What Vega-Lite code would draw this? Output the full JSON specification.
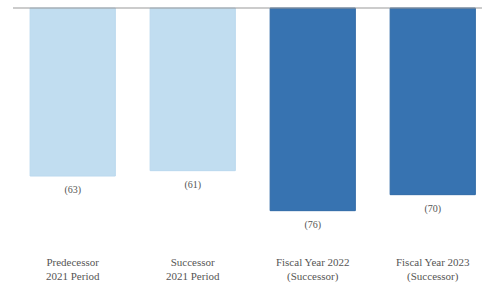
{
  "$schema": "https://vega.github.io/schema/vega-lite/v6.json",
  "autosize": {"type": "none"},
  "width": 469,
  "height": 240,
  "padding": {"left": 13, "top": 8, "right": 0, "bottom": 35},
  "background": "white",
  "config": {"view": {"stroke": null}},
  "layer": [
    {
      "data": {
        "values": [
          {"cat": "Predecessor|2021 Period", "value": -63, "label": "(63)", "type": "2021"},
          {"cat": "Successor|2021 Period", "value": -61, "label": "(61)", "type": "2021"},
          {"cat": "Fiscal Year 2022|(Successor)", "value": -76, "label": "(76)", "type": "FY"},
          {"cat": "Fiscal Year 2023|(Successor)", "value": -70, "label": "(70)", "type": "FY"}
        ]
      },
      "encoding": {
        "x": {
          "field": "cat",
          "type": "nominal",
          "sort": null,
          "scale": {"paddingInner": 0.29, "paddingOuter": 0.099, "align": 0.72},
          "axis": {
            "title": null,
            "orient": "bottom",
            "domain": false,
            "ticks": false,
            "labelAngle": 0,
            "labelExpr": "split(datum.label, '|')",
            "labelFont": "Liberation Serif, Times New Roman, DejaVu Serif, serif",
            "labelFontSize": 11,
            "labelLineHeight": 14,
            "labelColor": "#555555",
            "labelPadding": 8,
            "labelBaseline": "top"
          }
        },
        "y": {
          "field": "value",
          "type": "quantitative",
          "scale": {"domain": [-90, 0], "nice": false, "zero": true},
          "axis": null
        }
      },
      "layer": [
        {
          "mark": {"type": "bar", "strokeWidth": 1},
          "encoding": {
            "color": {
              "field": "type",
              "type": "nominal",
              "scale": {"domain": ["2021", "FY"], "range": ["#c1ddf0", "#3773b1"]},
              "legend": null
            },
            "stroke": {
              "field": "type",
              "type": "nominal",
              "scale": {"domain": ["2021", "FY"], "range": ["#bad8ee", "#2f69a6"]},
              "legend": null
            }
          }
        },
        {
          "mark": {"type": "text", "baseline": "middle", "dy": 14, "font": "Liberation Serif, Times New Roman, DejaVu Serif, serif", "fontSize": 10, "color": "#555555"},
          "encoding": {
            "text": {"field": "label"}
          }
        }
      ]
    },
    {
      "data": {"values": [{"v": 0}]},
      "mark": {"type": "rule", "color": "#999999", "strokeWidth": 1},
      "encoding": {"y": {"field": "v", "type": "quantitative"}}
    }
  ]
}
